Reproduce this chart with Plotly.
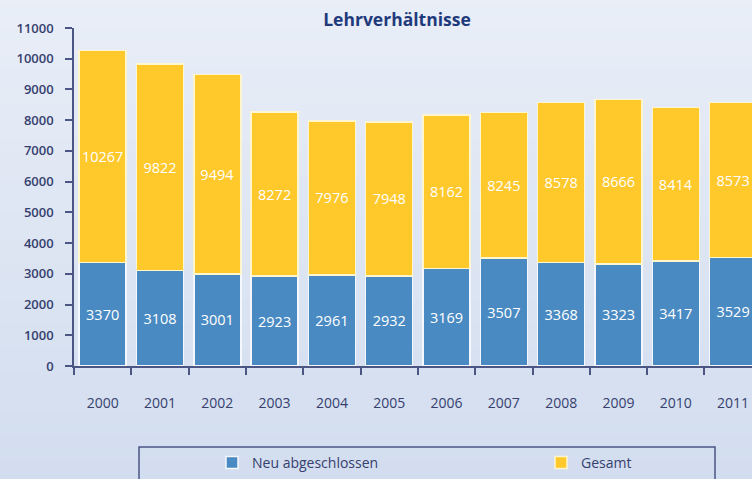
import plotly.graph_objects as go

years = ["2000", "2001", "2002", "2003", "2004", "2005", "2006", "2007", "2008", "2009", "2010", "2011"]
neu = [3370, 3108, 3001, 2923, 2961, 2932, 3169, 3507, 3368, 3323, 3417, 3529]
gesamt = [10267, 9822, 9494, 8272, 7976, 7948, 8162, 8245, 8578, 8666, 8414, 8573]
y_ticks = [0, 1000, 2000, 3000, 4000, 5000, 6000, 7000, 8000, 9000, 10000, 11000]

rest = [g - n for g, n in zip(gesamt, neu)]

BLUE = "#4a8ac2"
YELLOW = "#ffc82b"
NAVY = "#35406e"
FONT = "Open Sans"

fig = go.Figure()
fig.add_trace(go.Bar(
    x=years, y=neu, name="Neu abgeschlossen", legend="legend",
    marker=dict(color=BLUE, line=dict(color="#f4f7fb", width=1.5)),
    text=[str(v) for v in neu], textposition="inside", insidetextanchor="middle",
    textangle=0, constraintext="none",
    textfont=dict(color="white", size=14.5, family=FONT), width=0.82,
))
fig.add_trace(go.Bar(
    x=years, y=rest, name="Gesamt", legend="legend2",
    marker=dict(color=YELLOW, line=dict(color="#fff6cf", width=1.5)),
    text=[str(v) for v in gesamt], textposition="inside", insidetextanchor="middle",
    textangle=0, constraintext="none",
    textfont=dict(color="white", size=14.5, family=FONT), width=0.82,
    customdata=gesamt, hovertemplate="%{x}: %{customdata}<extra>Gesamt</extra>",
))

# background gradient bands
shapes = []
n = 40
top = (233, 238, 247)
bot = (210, 221, 239)
for i in range(n):
    t = i / (n - 1)
    c = tuple(int(round(top[k] + (bot[k] - top[k]) * t)) for k in range(3))
    shapes.append(dict(type="rect", xref="paper", yref="paper",
                       x0=-0.2, x1=1.2, y0=1.1 - (i + 1) * (1.45 / n), y1=1.1 - i * (1.45 / n) + 0.002,
                       fillcolor="rgb(%d,%d,%d)" % c, line=dict(width=0), layer="below"))
# legend frame
shapes.append(dict(type="rect", xref="paper", yref="paper",
                   x0=(139 - 74) / 678, x1=(715 - 74) / 678,
                   y0=-0.40, y1=-(447 - 366) / 338,
                   line=dict(color="#4b5685", width=1.5), fillcolor="rgba(0,0,0,0)"))

legend_common = dict(orientation="h", xanchor="left", yref="container", y=(479 - 463) / 479,
                     yanchor="middle",
                     bgcolor="rgba(0,0,0,0)", borderwidth=0,
                     font=dict(family=FONT, size=14, color=NAVY))

fig.update_layout(
    width=752, height=479,
    margin=dict(l=74, r=0, t=28, b=113, autoexpand=False),
    paper_bgcolor="#dfe7f3", plot_bgcolor="rgba(0,0,0,0)",
    barmode="stack", bargap=0.18,
    title=dict(text="<b>Lehrverhältnisse</b>", x=397 / 752, xanchor="center", y=0.958, yanchor="middle",
               font=dict(family=FONT, size=17.5, color="#1f3a7c")),
    font=dict(family=FONT, color=NAVY),
    showlegend=True,
    legend=dict(x=(212 - 74) / 678, **legend_common),
    legend2=dict(x=(541 - 74) / 678, **legend_common),
    shapes=shapes,
)
fig.update_xaxes(
    type="category", range=[-0.5, 11.33],
    showline=True, linecolor="#4b5685", linewidth=1.5,
    ticks="outside", tickson="boundaries", ticklen=7, tickcolor="#4b5685", tickwidth=1.5,
    ticklabelstandoff=23, tickfont=dict(family=FONT, size=14, color=NAVY, weight=500),
    showgrid=False, zeroline=False,
)
fig.update_yaxes(
    range=[0, 11000], tickvals=y_ticks, ticktext=[str(v) for v in y_ticks],
    showline=True, linecolor="#4b5685", linewidth=1.5,
    ticks="outside", ticklen=7, tickcolor="#4b5685", tickwidth=1.5,
    ticklabelstandoff=9,
    tickfont=dict(family=FONT, size=13, color=NAVY, weight=600),
    showgrid=False, zeroline=False,
)

fig.write_html("out.html", config={"displayModeBar": False},
               post_script="document.body.style.margin='0';document.body.style.overflow='hidden';")
